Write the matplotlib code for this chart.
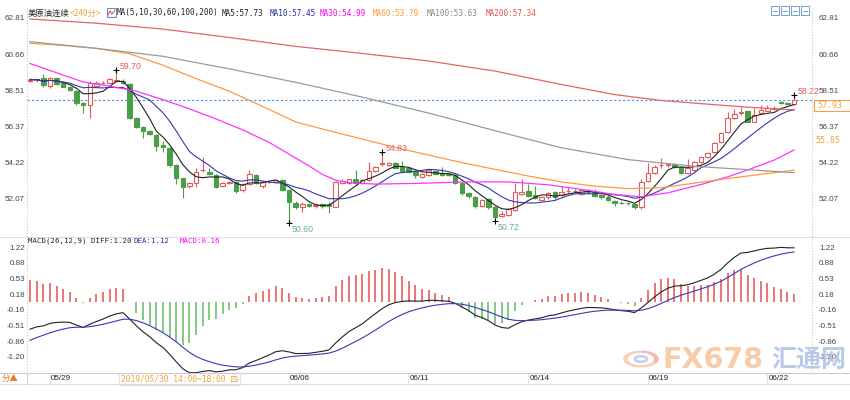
import numpy as np
import matplotlib
matplotlib.use("Agg")
import matplotlib.pyplot as plt
from matplotlib.transforms import blended_transform_factory
from matplotlib.patches import Rectangle, Circle, Wedge
from matplotlib.lines import Line2D

# ---------------- data (4-hour candles) ----------------
opens = [59.08, 59.10, 59.22, 58.75, 59.22, 58.92, 58.72, 58.48, 57.75, 57.60,
         58.78, 58.96, 58.96, 59.08, 59.08, 58.88, 56.84, 56.34, 56.10, 55.85,
         55.25, 55.07, 54.06, 53.27, 52.80, 53.00, 53.75, 53.66, 53.46, 52.80,
         53.00, 53.07, 52.55, 52.90, 53.45, 52.78, 53.05, 53.05, 53.17, 52.57,
         51.82, 51.54, 51.72, 51.60, 51.72, 51.75, 51.58, 53.00, 53.00, 53.20,
         53.00, 53.17, 53.72, 54.10, 54.06, 54.16, 53.92, 53.85, 53.70, 53.36,
         53.46, 53.70, 53.60, 53.55, 53.46, 52.97, 52.38, 52.17, 51.62, 52.02,
         51.54, 51.00, 51.10, 51.38, 52.35, 52.50, 52.25, 52.00, 52.13, 52.42,
         52.27, 52.50, 52.50, 52.35, 52.50, 52.42, 52.27, 52.17, 51.94, 51.82,
         51.80, 51.74, 51.58, 53.13, 53.60, 54.04, 54.08, 54.10, 53.96, 53.60,
         53.76, 54.26, 54.55, 54.85, 55.45, 56.04, 56.84, 57.18, 57.29, 56.64,
         57.14, 57.29, 57.42, 57.80, 57.72, 57.69]
highs = [59.22, 59.20, 59.45, 59.30, 59.32, 59.00, 58.78, 58.52, 57.82, 59.05,
         59.05, 59.08, 59.25, 59.70, 59.15, 58.95, 56.90, 56.40, 56.15, 55.90,
         55.50, 55.12, 54.10, 53.30, 53.05, 53.85, 54.55, 53.85, 53.50, 53.05,
         53.10, 53.12, 53.00, 53.75, 53.55, 53.10, 53.12, 53.25, 53.25, 52.62,
         51.90, 51.85, 51.80, 51.78, 51.80, 51.85, 53.12, 53.20, 53.25, 53.76,
         53.25, 54.26, 54.00, 54.83, 54.25, 54.22, 54.30, 53.95, 53.75, 53.60,
         53.80, 53.78, 53.95, 53.60, 53.50, 53.00, 52.45, 52.22, 52.05, 52.10,
         51.60, 51.30, 51.50, 52.97, 53.25, 52.95, 52.80, 52.20, 52.45, 52.50,
         52.80, 52.75, 52.60, 52.60, 52.60, 52.60, 52.35, 52.25, 52.00, 51.90,
         51.88, 51.80, 53.20, 54.16, 54.05, 54.50, 54.20, 54.20, 54.00, 54.40,
         54.30, 54.60, 54.85, 55.45, 56.05, 57.20, 57.40, 57.50, 57.35, 57.45,
         57.60, 57.65, 57.58, 57.85, 57.78, 58.22]
lows = [59.00, 59.02, 58.70, 58.65, 58.85, 58.68, 58.45, 57.60, 57.15, 56.88,
        58.70, 58.88, 58.92, 59.00, 58.90, 56.80, 56.25, 55.67, 55.85, 54.90,
        54.85, 53.95, 52.90, 52.10, 52.70, 52.75, 53.65, 53.45, 52.70, 52.75,
        52.92, 52.40, 52.45, 52.85, 52.95, 52.70, 52.98, 53.00, 52.50, 50.60,
        51.45, 51.28, 51.55, 51.52, 51.50, 51.18, 51.55, 52.95, 52.95, 52.95,
        52.95, 53.10, 53.65, 54.00, 54.00, 53.85, 53.65, 53.60, 53.30, 53.30,
        53.40, 53.50, 53.40, 53.40, 52.90, 52.30, 52.10, 51.50, 51.55, 51.45,
        50.72, 50.95, 51.00, 51.30, 52.30, 52.15, 52.05, 51.92, 52.05, 52.05,
        52.20, 52.40, 52.40, 52.30, 52.35, 52.15, 52.05, 51.90, 51.60, 51.72,
        51.70, 51.45, 51.45, 53.05, 53.50, 53.90, 53.95, 53.90, 53.50, 53.50,
        53.70, 54.20, 54.45, 54.80, 55.40, 55.95, 56.80, 57.05, 56.60, 56.60,
        57.10, 57.25, 57.35, 57.70, 57.60, 57.65]
closes = [59.14, 59.15, 58.85, 59.25, 58.90, 58.72, 58.50, 57.75, 57.62, 58.95,
          58.95, 58.96, 59.20, 59.12, 58.95, 56.85, 56.34, 56.10, 55.90, 55.20,
          55.10, 54.06, 53.30, 52.77, 53.00, 53.66, 53.78, 53.52, 52.77, 53.00,
          53.02, 52.53, 52.90, 53.50, 53.00, 53.05, 53.06, 53.18, 52.57, 51.88,
          51.54, 51.74, 51.62, 51.70, 51.60, 51.62, 53.07, 53.13, 53.20, 53.00,
          53.15, 53.72, 53.92, 54.15, 54.16, 53.90, 53.72, 53.65, 53.46, 53.52,
          53.76, 53.55, 53.46, 53.46, 52.97, 52.38, 52.20, 51.62, 51.98, 51.54,
          50.98, 51.15, 51.42, 52.47, 52.45, 52.22, 52.12, 52.13, 52.40, 52.15,
          52.47, 52.52, 52.48, 52.55, 52.45, 52.22, 52.17, 51.97, 51.82, 51.80,
          51.78, 51.54, 53.07, 53.56, 53.96, 54.08, 54.10, 53.95, 53.56, 53.90,
          54.26, 54.55, 54.79, 55.35, 55.95, 56.84, 57.10, 57.22, 56.64, 57.04,
          57.33, 57.44, 57.46, 57.77, 57.68, 57.93]

# long moving averages, read at sample candles
ma30_idx = [0, 4, 8, 12, 16, 20, 24, 28, 32, 36, 39, 42, 44, 46, 48, 52, 59, 66,
            72, 78, 84, 88, 92, 96, 101, 105, 108, 112, 115]
ma30_val = [60.10, 59.55, 59.00, 58.75, 58.45, 57.95, 57.40, 56.80, 56.15, 55.40,
            54.70, 54.00, 53.50, 53.15, 53.00, 52.92, 52.97, 53.05, 53.05, 52.88,
            52.55, 52.30, 52.17, 52.40, 52.90, 53.35, 53.76, 54.35, 54.95]
ma60_idx = [0, 5, 10, 15, 20, 25, 30, 35, 40, 45, 50, 55, 60, 65, 70, 75, 80, 85,
            90, 95, 100, 105, 110, 115]
ma60_val = [61.30, 61.18, 61.00, 60.68, 60.00, 59.20, 58.45, 57.55, 56.62, 56.10,
            55.60, 55.10, 54.65, 54.20, 53.80, 53.40, 53.05, 52.80, 52.65, 52.70,
            52.98, 53.25, 53.50, 53.75]
ma100_idx = [0, 10, 20, 30, 40, 50, 60, 70, 80, 90, 100, 108, 115]
ma100_val = [61.40, 61.00, 60.53, 59.78, 58.98, 58.10, 57.15, 56.10, 55.08, 54.38,
             53.98, 53.78, 53.60]
ma200_idx = [0, 10, 20, 30, 40, 50, 60, 70, 80, 88, 95, 102, 108, 115]
ma200_val = [62.75, 62.50, 62.15, 61.65, 61.12, 60.70, 60.25, 59.65, 58.85, 58.25,
             57.90, 57.68, 57.50, 57.34]

# MACD state before the first visible candle
ema12_start_offset = -0.10
ema26_start_offset = 0.55
dea_start = -0.90

day_labels = ["05/29", "06/06", "06/11", "06/14", "06/19", "06/22"]
day_index = [3, 39, 57, 75, 93, 111]
price_ticks = [62.81, 60.66, 58.51, 56.37, 54.22, 52.07]
price_tick_labels = ["62.81", "60.66", "58.51", "56.37", "54.22", "52.07"]
macd_ticks = [1.22, 0.88, 0.53, 0.18, -0.16, -0.51, -0.86, -1.20]
macd_tick_labels = ["1.22", "0.88", "0.53", "0.18", "-0.16", "-0.51", "-0.86", "-1.20"]
last_price = 57.93
cursor_price = 55.85
high_marks = [(13, 59.70), (53, 54.83), (115, 58.22)]
low_marks = [(39, 50.60), (70, 50.72)]

# ---------------- styling ----------------
RED = "#e25c5c"
GREEN = "#4a9e48"
MONO = ["DejaVu Sans Mono", "Noto Sans CJK SC"]
CJK = ["Noto Sans CJK SC", "DejaVu Sans"]
plt.rcParams["font.family"] = ["Liberation Sans", "DejaVu Sans"]

W, H = 850, 400
fig = plt.figure(figsize=(W / 100, H / 100), dpi=100)
fig.patch.set_facecolor("white")


def fx(x):
    return x / W


def fy(y):
    return 1 - y / H


L, R = 27, 812
ax = fig.add_axes([fx(L), fy(236), (R - L) / W, (236 - 8) / H])
mx = fig.add_axes([fx(L), fy(373), (R - L) / W, (373 - 238) / H])

o = np.array(opens)
h = np.array(highs)
lo = np.array(lows)
c = np.array(closes)
n = len(c)
idx = np.arange(n)
up = c >= o
cols = np.where(up, RED, GREEN)

# wicks and bodies
ax.vlines(idx, lo, h, colors=cols, linewidth=0.8, zorder=2)
body_bottom = np.minimum(o, c)
body_h = np.abs(c - o)
ax.bar(idx[up], body_h[up], bottom=body_bottom[up], width=0.68,
       facecolor="white", edgecolor=RED, linewidth=0.8, zorder=3)
ax.bar(idx[~up], body_h[~up], bottom=body_bottom[~up], width=0.68,
       facecolor=GREEN, edgecolor=GREEN, linewidth=0.8, zorder=3)

# moving averages
cs = np.cumsum(np.insert(c, 0, 0.0))


def rolling_mean(k):
    out = np.empty(n)
    for t in range(n):
        s = max(0, t - k + 1)
        out[t] = (cs[t + 1] - cs[s]) / (t + 1 - s)
    return out


ma5 = rolling_mean(5)
ma10 = rolling_mean(10)
ax.plot(idx, ma5, color="#222222", lw=0.8, zorder=4)
ax.plot(idx, ma10, color="#3535b0", lw=0.8, zorder=4)
ax.plot(ma30_idx, ma30_val, color="#ff33ff", lw=0.9, zorder=4)
ax.plot(ma60_idx, ma60_val, color="#ff9a3c", lw=0.9, zorder=4)
ax.plot(ma100_idx, ma100_val, color="#9a9a9a", lw=0.9, zorder=4)
ax.plot(ma200_idx, ma200_val, color="#e26464", lw=0.9, zorder=4)

ax.axhline(last_price, color="#4a8fe0", lw=0.8, ls=(0, (2, 2)), zorder=1)

# high / low marks
for i, v in high_marks:
    ax.plot(i, v, marker="+", color="black", ms=5, mew=0.8, zorder=5)
    ax.annotate(f"{v:.2f}", (i, v), xytext=(2.4, 2.6), textcoords="offset points",
                ha="left", va="center", fontsize=6.3, color=RED, zorder=6)
for i, v in low_marks:
    ax.plot(i, v, marker="+", color="black", ms=5, mew=0.8, zorder=5)
    ax.annotate(f"{v:.2f}", (i, v), xytext=(2.0, -4.3), textcoords="offset points",
                ha="left", va="center", fontsize=6.3, color="#66b08a", zorder=6)

ax.set_xlim(-0.45, 117.7)
ax.set_ylim(49.83, 63.405)
ax.set_yticks(price_ticks)
ax.set_yticklabels(price_tick_labels)

# MACD from the closes
a12, a26, a9 = 2 / 13, 2 / 27, 2 / 10
e12 = c[0] + ema12_start_offset
e26 = c[0] + ema26_start_offset
d = dea_start
diff = np.empty(n)
dea = np.empty(n)
for t in range(n):
    e12 = a12 * c[t] + (1 - a12) * e12
    e26 = a26 * c[t] + (1 - a26) * e26
    diff[t] = e12 - e26
    d = a9 * diff[t] + (1 - a9) * d
    dea[t] = d
hist = 2 * (diff - dea)
mx.vlines(idx, 0, hist, colors=np.where(hist >= 0, "#e86a6a", "#7cc47c"), linewidth=1.3)
mx.plot(idx, diff, color="#222222", lw=0.8)
mx.plot(idx, dea, color="#3a3ab4", lw=0.8)
mx.set_xlim(-0.45, 117.7)
mx.set_ylim(-1.566, 1.431)
mx.set_yticks(macd_ticks)
mx.set_yticklabels(macd_tick_labels)

for a in (ax, mx):
    for s in a.spines.values():
        s.set_visible(False)
    a.set_xticks([])
    a.tick_params(axis="y", length=0, labelsize=5.8, labelcolor="#444444",
                  labelleft=True, labelright=True, pad=1.5)
    a.patch.set_alpha(0)
    for t in a.yaxis.get_major_ticks():
        t.label2.set_x(1.0 + 5 / (R - L))

# frame lines
fig.add_artist(Line2D([fx(L), fx(L)], [fy(8), fy(373)], color="#bbbbbb", lw=0.7, ls=(0, (1, 2))))
fig.add_artist(Line2D([fx(R), fx(R)], [fy(8), fy(373)], color="#bbbbbb", lw=0.7, ls=(0, (1, 2))))
fig.add_artist(Line2D([0, 1], [fy(237), fy(237)], color="#dddddd", lw=0.8))
fig.add_artist(Line2D([0, 1], [fy(373), fy(373)], color="#cccccc", lw=0.8))
fig.add_artist(Line2D([0, 1], [fy(384), fy(384)], color="#dddddd", lw=0.8))
fig.add_artist(Line2D([fx(L), fx(L)], [fy(373), fy(384)], color="#cccccc", lw=0.7))

# date labels
tr = blended_transform_factory(mx.transData, fig.transFigure)
for i, lab in zip(day_index, day_labels):
    mx.text(i + 0.15, fy(379), lab, transform=tr, ha="left", va="center",
            fontsize=5.8, color="#222222", clip_on=False)
    mx.add_line(Line2D([i - 0.05, i - 0.05], [fy(373), fy(384)], transform=tr,
                       color="#dddddd", lw=0.6, clip_on=False))

# right-axis price boxes
trp = blended_transform_factory(fig.transFigure, ax.transData)
box_h = 11 / 16.8
ax.add_patch(Rectangle((fx(814), last_price - box_h), fx(850) - fx(814), box_h,
                       transform=trp, facecolor="white", edgecolor="#f5a040",
                       lw=0.8, clip_on=False, zorder=6))
ax.text(fx(817), last_price - box_h / 2, f"{last_price:.2f}", transform=trp,
        ha="left", va="center", fontsize=6, color="#f5a040", family=MONO,
        clip_on=False, zorder=7)
ax.text(fx(815), cursor_price - box_h / 2, f"{cursor_price:.2f}", transform=trp,
        ha="left", va="center", fontsize=6, color="#f5a040", family=MONO,
        clip_on=False, zorder=7)


# legends
def ftext(x, y, s, color, family=MONO, size=5.5):
    fig.text(fx(x), fy(y), s, color=color, family=family, fontsize=size,
             ha="left", va="center")


ftext(28, 13, "美原油连续", "#222222", CJK, 6.0)
ftext(70, 13, "<240分>", "#f0a040", CJK, 6.0)
fig.add_artist(Rectangle((fx(107), fy(17)), fx(116) - fx(107), fy(8) - fy(17),
                         transform=fig.transFigure, facecolor="white",
                         edgecolor="#4a6fd0", lw=0.6))
fig.add_artist(Line2D([fx(108), fx(110), fx(112), fx(115)], [fy(15), fy(11), fy(14), fy(10)],
                      color="#e04040", lw=0.7))
ftext(117, 13, "MA(5,10,30,60,100,200)", "#222222")
ftext(222, 13, "MA5:57.73", "#222222")
ftext(270, 13, "MA10:57.45", "#2a2aa8")
ftext(320, 13, "MA30:54.99", "#ff00ff")
ftext(373, 13, "MA60:53.79", "#ff9933")
ftext(427, 13, "MA100:53.63", "#888888")
ftext(486, 13, "MA200:57.34", "#e05050")

ftext(28, 241, "MACD(26,12,9) DIFF:1.20", "#222222", MONO, 5.3)
ftext(133, 241, "DEA:1.12", "#2a2aa8", MONO, 5.3)
ftext(180, 241, "MACD:0.16", "#ff00ff", MONO, 5.3)

# top-right tool icons
for k in range(4):
    x0 = 771 + k * 10
    fig.add_artist(Rectangle((fx(x0), fy(15)), fx(x0 + 8) - fx(x0), fy(6) - fy(15),
                             transform=fig.transFigure, facecolor="white",
                             edgecolor="#5b8fd6", lw=0.6))
    fig.add_artist(Line2D([fx(x0 + 2), fx(x0 + 6)], [fy(10.5), fy(10.5)],
                          color="#5b8fd6", lw=0.6))

# cursor tooltip and period tag
fig.add_artist(Rectangle((fx(119), fy(385)), fx(240) - fx(119), fy(373) - fy(385),
                         transform=fig.transFigure, facecolor="white",
                         edgecolor="#dddddd", lw=0.6))
ftext(121, 379, "2019/05/30 14:00~18:00 四", "#f0a040", MONO, 5.7)
ftext(2, 379, "分▲", "#e87a20", CJK, 6.0)

# watermark
fig.add_artist(Wedge((fx(641), fy(359)), 18 / W, 90, 330, width=5 / W,
                     transform=fig.transFigure, facecolor="#f6c8a0",
                     edgecolor="none", alpha=0.8))
fig.add_artist(Wedge((fx(641), fy(359)), 18 / W, 330, 90, width=5 / W,
                     transform=fig.transFigure, facecolor="#f3a6a0",
                     edgecolor="none", alpha=0.8))
fig.add_artist(Circle((fx(641), fy(359)), 6 / W, transform=fig.transFigure,
                      facecolor="none", edgecolor="#b8c8ea", lw=2, alpha=0.8))
fig.text(fx(662), fy(360), "FX678", color="#f6c49c", fontsize=20.5, fontweight="bold",
         family=["DejaVu Sans"], ha="left", va="center", alpha=0.85)
fig.text(fx(771), fy(360), "汇通网", color="#aebfe6", fontsize=18, fontweight="bold",
         family=CJK, ha="left", va="center", alpha=0.85)

fig.savefig("out.png", dpi=100, facecolor="white")
